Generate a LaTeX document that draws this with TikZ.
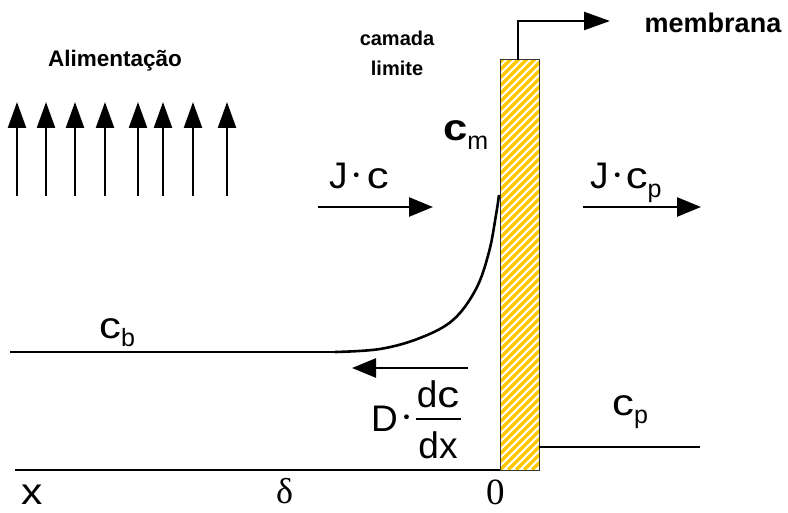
\documentclass[tikz,border=0pt]{standalone}
\usepackage{fontspec}
\setmainfont{Liberation Sans}
\newfontfamily\serifface{Liberation Serif}
\usetikzlibrary{arrows.meta}
\definecolor{hatch}{RGB}{255,200,0}
\newcommand\bigf{\fontsize{37}{39}\selectfont}
\newcommand\subf[1]{\raisebox{-9pt}{\fontsize{25}{25}\selectfont #1}}
\newcommand\cc{\scalebox{1.18}[1]{c}}
\newcommand\mdot{\,\raisebox{0.32em}{\tikz\fill (0,0) circle (2.4pt);}\,}
\begin{document}
\begin{tikzpicture}[x=1pt,y=-1pt,
  line/.style={line width=2.6pt},
  uparrow/.style={line width=2.3pt,-{Triangle[length=26pt,width=18pt]}},
  harrow/.style={line width=2.6pt,-{Triangle[length=24pt,width=19pt]}},
  lbl/.style={inner sep=0pt,font=\bigf},
  smallbold/.style={inner sep=0pt,font=\bfseries\fontsize{20}{22}\selectfont},
]
\useasboundingbox (0,0) rectangle (788,513);
% membrane
\coordinate (mtl) at (500,60);
\coordinate (mbr) at (539,470);
\begin{scope}
\clip (mtl) rectangle (mbr);
\foreach \i in {-55,...,6}{
  \draw[hatch,line width=3.4pt] (500+8*\i,470) -- ++(440,-440);
}
\end{scope}
\draw[line width=1pt,black!80] (mtl) rectangle (mbr);
% membrana pointer
\coordinate (mtop) at (518,60);
\coordinate (mtip) at (610,21);
\draw[line width=2.4pt,-{Triangle[length=26pt,width=18pt]}] (mtop) |- (mtip);
\node[inner sep=0pt,font=\bfseries\fontsize{27}{29}\selectfont] (membrana) at (713,23) {membrana};
% feed arrows
\node[inner sep=0pt,font=\bfseries\fontsize{22.5}{24}\selectfont] (alim) at (115,61) {Alimentação};
\foreach \xx [count=\k] in {17,46,75,105,138,163,193,227}{
  \coordinate (ab\k) at (\xx,196);
  \coordinate (at\k) at (\xx,102);
  \draw[uparrow] (ab\k) -- (at\k);
}
% camada limite
\node[smallbold] (camada) at (397,38) {camada};
\node[smallbold] (limite) at (397,68) {limite};
% c_m
\node[lbl,anchor=base west] (cm) at (443,141) {\textbf{\cc}\subf{m}};
% J.c
\node[lbl,anchor=base west] (jc) at (329,189) {J\mdot\kern2pt\cc};
\coordinate (jca) at (318,207);
\coordinate (jcb) at (433,207);
\draw[harrow] (jca) -- (jcb);
% J.cp
\node[lbl,anchor=base west] (jcp) at (590,189) {J\mdot\cc\subf{p}};
\coordinate (jpa) at (583,207);
\coordinate (jpb) at (701,207);
\draw[harrow] (jpa) -- (jpb);
% concentration profile
\coordinate (cbl) at (10,352);
\coordinate (cbr) at (335,352);
\coordinate (cmem) at (499,195);
\draw[line] (cbl) -- (cbr);
\draw[line,line join=round] plot[smooth,tension=0.6] coordinates {(cbr) (380,349) (420,338) (453,320) (476,289) (489,252) (496,215) (cmem)};
\node[lbl,anchor=base west] (cb) at (99,338) {\cc\subf{b}};
% diffusion arrow
\coordinate (da) at (468,368);
\coordinate (db) at (352,368);
\draw[harrow] (da) -- (db);
\node[lbl,anchor=base west] (D) at (371,431) {D\,\raisebox{0.32em}{\tikz\fill (0,0) circle (2.4pt);}};
\node[lbl] (dc) at (438,394) {d\cc};
\node[lbl] (dx) at (438,445) {dx};
\draw[line width=1.2pt] (416,419) -- (461,419);
% permeate
\coordinate (pa) at (539,447);
\coordinate (pb) at (700,447);
\draw[line] (pa) -- (pb);
\node[lbl,anchor=base west] (cp) at (612,415) {\cc\subf{p}};
% axis
\coordinate (xa) at (15,470);
\coordinate (xb) at (500,470);
\draw[line] (xa) -- (xb);
\node[lbl,anchor=base west] (xl) at (21,504) {\scalebox{1.15}[1]{x}};
\node[inner sep=0pt,anchor=base west,font=\serifface\fontsize{36}{38}\selectfont] (delta) at (276,503) {δ};
\node[inner sep=0pt,anchor=base west,font=\serifface\fontsize{37}{39}\selectfont] (zero) at (486,504) {0};
\end{tikzpicture}
\end{document}
